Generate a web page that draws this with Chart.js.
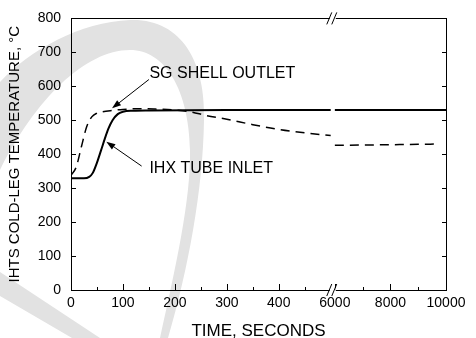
<!DOCTYPE html>
<html>
<head>
<meta charset="utf-8">
<script src="https://cdn.jsdelivr.net/npm/chart.js@4.4.0/dist/chart.umd.min.js"></script>
<style>
  html, body { margin: 0; padding: 0; background: #fff; }
</style>
</head>
<body>
<canvas id="chart" width="476" height="338"></canvas>
<script>
// time in seconds, temperature in deg C
const sgTimeEarly = [0, 10, 20, 30, 40, 50, 60, 80, 100, 130, 160, 200, 230, 260, 300, 350, 400, 450, 500];
const sgTempEarly = [338, 362, 422, 480, 510, 521, 525, 529, 532, 534, 533, 530, 525, 514, 503, 487, 473, 463, 455];
const sgTimeLate = [6000, 7000, 8000, 9000, 9660];
const sgTempLate = [426, 427, 428, 429, 430];

const ihxTimeEarly = [0, 25, 35, 42, 50, 58, 65, 72, 80, 90, 100, 120, 150, 300, 500];
const ihxTempEarly = [329, 329, 333, 345, 375, 412, 445, 475, 500, 518, 525, 528, 529, 530, 530];
const ihxTimeLate = [6000, 8000, 10000];
const ihxTempLate = [530, 530, 530];

const xTickTimes = [0, 50, 100, 150, 200, 250, 300, 350, 400, 450, 6000, 7000, 8000, 9000, 10000];
const xLabelTimes = [0, 100, 200, 300, 400, 6000, 8000, 10000];

// broken time axis: 0..500 s, then 6000..10000 s on a compressed scale
function toAxis(t) {
  return t <= 500 ? t : 508 + (t - 6000) * 107 / 2000;
}

function points(times, temps) {
  return times.map((t, i) => ({ x: toAxis(t), y: temps[i] }));
}

const FONT = '"Liberation Sans", Arial, Helvetica, sans-serif';

const notes = [
  { text: 'SG SHELL OUTLET', t: 151, T: 636, fromT: 150, fromTemp: 620, toT: 79, toTemp: 535 },
  { text: 'IHX TUBE INLET', t: 151, T: 357, fromT: 136, fromTemp: 365, toT: 68, toTemp: 437 }
];

function line(ctx, x1, y1, x2, y2) {
  ctx.beginPath();
  ctx.moveTo(x1, y1);
  ctx.lineTo(x2, y2);
  ctx.stroke();
}

function arrow(ctx, x1, y1, x2, y2) {
  const a = Math.atan2(y2 - y1, x2 - x1);
  const len = 9, w = 3.2;
  const bx = x2 - len * Math.cos(a), by = y2 - len * Math.sin(a);
  line(ctx, x1, y1, bx, by);
  ctx.beginPath();
  ctx.moveTo(x2, y2);
  ctx.lineTo(bx + w * Math.sin(a), by - w * Math.cos(a));
  ctx.lineTo(bx - w * Math.sin(a), by + w * Math.cos(a));
  ctx.closePath();
  ctx.fill();
}

const decor = {
  id: 'decor',
  beforeDraw(chart) {
    const ctx = chart.ctx;
    ctx.save();
    ctx.fillStyle = '#e2e2e2';
    // faint watermark arc behind the plot
    ctx.beginPath();
    ctx.moveTo(0, 82);
    ctx.bezierCurveTo(30, 50, 80, 22, 130, 20);
    ctx.bezierCurveTo(180, 18, 206, 60, 204, 120);
    ctx.bezierCurveTo(203, 190, 188, 270, 168, 338);
    ctx.lineTo(160, 338);
    ctx.bezierCurveTo(175, 270, 191, 200, 190, 150);
    ctx.bezierCurveTo(189, 90, 165, 50, 130, 50);
    ctx.bezierCurveTo(85, 50, 35, 100, 0, 170);
    ctx.closePath();
    ctx.fill();
    ctx.beginPath();
    ctx.moveTo(0, 272);
    ctx.lineTo(100, 338);
    ctx.lineTo(72, 338);
    ctx.lineTo(0, 296);
    ctx.closePath();
    ctx.fill();
    ctx.restore();
  },
  afterDraw(chart) {
    const { ctx, chartArea: a, scales: { x, y } } = chart;
    ctx.save();
    ctx.strokeStyle = '#000';
    ctx.fillStyle = '#000';
    ctx.lineWidth = 1;
    ctx.strokeRect(Math.round(a.left) + 0.5, Math.round(a.top) + 0.5,
      Math.round(a.right - a.left), Math.round(a.bottom - a.top));

    xTickTimes.forEach(t => {
      const px = Math.round(x.getPixelForValue(toAxis(t))) + 0.5;
      const len = xLabelTimes.includes(t) ? 6 : 3;
      line(ctx, px, a.bottom, px, a.bottom - len);
    });
    y.ticks.forEach(tk => {
      const py = Math.round(y.getPixelForValue(tk.value)) + 0.5;
      line(ctx, a.left, py, a.left + 5, py);
      line(ctx, a.right, py, a.right - 4, py);
    });

    // axis break marks
    const bx = (x.getPixelForValue(toAxis(500)) + x.getPixelForValue(toAxis(6000))) / 2;
    [a.top, a.bottom].forEach(by => {
      ctx.fillStyle = '#fff';
      ctx.fillRect(bx - 3, by - 2, 6, 4);
      ctx.fillStyle = '#000';
      line(ctx, bx - 6, by + 6, bx - 1, by - 6);
      line(ctx, bx - 1, by + 6, bx + 4, by - 6);
    });

    ctx.font = '16px ' + FONT;
    ctx.textBaseline = 'middle';
    ctx.textAlign = 'left';
    notes.forEach(n => {
      ctx.fillText(n.text, x.getPixelForValue(toAxis(n.t)), y.getPixelForValue(n.T));
      arrow(ctx, x.getPixelForValue(toAxis(n.fromT)), y.getPixelForValue(n.fromTemp),
        x.getPixelForValue(toAxis(n.toT)), y.getPixelForValue(n.toTemp));
    });
    ctx.restore();
  }
};

const solid = { borderColor: '#000', borderWidth: 2, pointRadius: 0, fill: false, cubicInterpolationMode: 'monotone' };
const dashed = { borderColor: '#000', borderWidth: 1.5, borderDash: [9, 6], pointRadius: 0, fill: false, cubicInterpolationMode: 'monotone' };

new Chart(document.getElementById('chart'), {
  type: 'line',
  data: {
    datasets: [
      Object.assign({ label: 'IHX TUBE INLET', data: points(ihxTimeEarly, ihxTempEarly) }, solid),
      Object.assign({ label: 'IHX TUBE INLET late', data: points(ihxTimeLate, ihxTempLate) }, solid),
      Object.assign({ label: 'SG SHELL OUTLET', data: points(sgTimeEarly, sgTempEarly) }, dashed),
      Object.assign({ label: 'SG SHELL OUTLET late', data: points(sgTimeLate, sgTempLate) }, dashed)
    ]
  },
  options: {
    responsive: false,
    animation: false,
    events: [],
    layout: { padding: { left: 0, top: 12, right: 30, bottom: 0 } },
    plugins: { legend: { display: false }, tooltip: { enabled: false } },
    scales: {
      x: {
        type: 'linear',
        min: 0,
        max: toAxis(10000),
        grid: { display: false, drawTicks: false },
        border: { display: false },
        afterBuildTicks(scale) {
          scale.ticks = xTickTimes.map(t => ({ value: toAxis(t) }));
        },
        afterFit(scale) { scale.height = 48; },
        ticks: {
          autoSkip: false,
          maxRotation: 0,
          padding: 5,
          color: '#000',
          font: { family: FONT, size: 14 },
          callback: (v, i) => xLabelTimes.includes(xTickTimes[i]) ? String(xTickTimes[i]) : ''
        },
        title: {
          display: true,
          text: 'TIME, SECONDS',
          color: '#000',
          font: { family: FONT, size: 17, lineHeight: 1 },
          padding: { top: 0, bottom: -2 }
        }
      },
      y: {
        min: 0,
        max: 800,
        grid: { display: false, drawTicks: false },
        border: { display: false },
        afterFit(scale) { scale.width = 71; },
        ticks: {
          stepSize: 50,
          padding: 10,
          color: '#000',
          font: { family: FONT, size: 14 },
          callback: v => v % 100 === 0 ? String(v) : ''
        },
        title: {
          display: true,
          text: 'IHTS COLD-LEG TEMPERATURE, °C',
          color: '#000',
          font: { family: FONT, size: 15 },
          padding: { top: 6, bottom: 0 }
        }
      }
    }
  },
  plugins: [decor]
});
</script>
</body>
</html>
